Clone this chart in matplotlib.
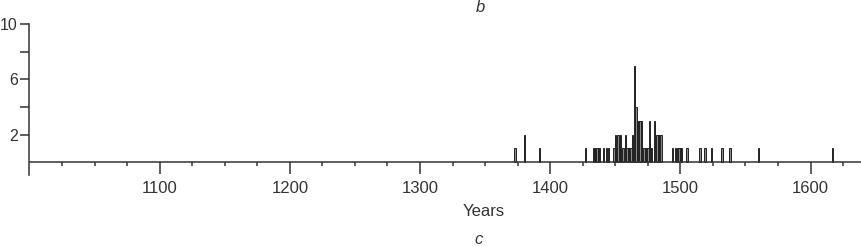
import matplotlib
matplotlib.use("Agg")
import matplotlib.pyplot as plt
import numpy as np

plt.rcParams['font.family'] = ['Liberation Sans', 'DejaVu Sans']

# year -> number of events
years = [1373, 1380, 1392, 1427,
         1433, 1434, 1435, 1436, 1437, 1438, 1441, 1443, 1445,
         1449, 1450, 1451, 1452, 1453, 1454, 1456, 1458,
         1459, 1460, 1461, 1462, 1463, 1464, 1465, 1466,
         1467, 1468, 1469, 1470, 1471, 1472, 1473, 1474, 1475,
         1476, 1477, 1478, 1480, 1482, 1483, 1484, 1485,
         1494, 1496, 1498, 1499, 1500, 1501, 1505, 1515,
         1519, 1524, 1532, 1538, 1560, 1617]
counts = [1, 2, 1, 1,
          1, 1, 1, 1, 1, 1, 1, 1, 1,
          1, 2, 1, 2, 1, 2, 1, 2,
          1, 1, 1, 1, 2, 1, 7, 4,
          3, 3, 3, 3, 1, 1, 1, 1, 1,
          3, 1, 1, 3, 2, 2, 2, 2,
          1, 1, 1, 1, 1, 1, 1, 1,
          1, 1, 1, 1, 1, 1]

major_years = [1100, 1200, 1300, 1400, 1500, 1600]
y_labeled = [2, 6, 10]
y_unlabeled = [4, 8]

W, H = 862, 246
fig = plt.figure(figsize=(W / 100, H / 100), dpi=100)
ax = fig.add_axes([29.5 / W, 1 - 175.4 / H, 1 - 29.5 / W, (175.4 - 24.3) / H])

ink = '#333333'
ax.bar(years, counts, width=1.0, color='#8a8a8a', edgecolor='#222222', linewidth=0.7)

ax.set_xlim(1000, 1639.5)
ax.set_ylim(-0.95, 10)

for s in ['top', 'right']:
    ax.spines[s].set_visible(False)
ax.spines['bottom'].set_position(('data', 0))
ax.spines['left'].set_bounds(-0.95, 10)
for s in ['bottom', 'left']:
    ax.spines[s].set_color(ink)
    ax.spines[s].set_linewidth(1.1)

ax.set_xticks(major_years)
ax.set_xticks([y for y in range(1025, 1640, 25) if y not in major_years], minor=True)
ax.set_yticks(y_labeled)
ax.set_yticks(y_unlabeled, minor=True)

ax.tick_params(axis='x', which='major', direction='out', length=8.6, width=1.1,
               color=ink, labelcolor=ink, labelsize=12, pad=5)
ax.tick_params(axis='x', which='minor', direction='out', length=2.6, width=1.1, color=ink)
ax.tick_params(axis='y', which='both', direction='out', length=6.5, width=1.1,
               color=ink, labelcolor=ink, labelsize=11.5, pad=1.8)

fig.text(484 / W, 1 - 211 / H, 'Years', ha='center', va='center', fontsize=12, color=ink)
fig.text(480 / W, 1 - 8 / H, 'b', ha='center', va='center', fontsize=12,
         style='italic', color=ink)
fig.text(479 / W, 1 - 239 / H, 'c', ha='center', va='center', fontsize=12,
         style='italic', color=ink)

fig.savefig('out.png', dpi=100)
